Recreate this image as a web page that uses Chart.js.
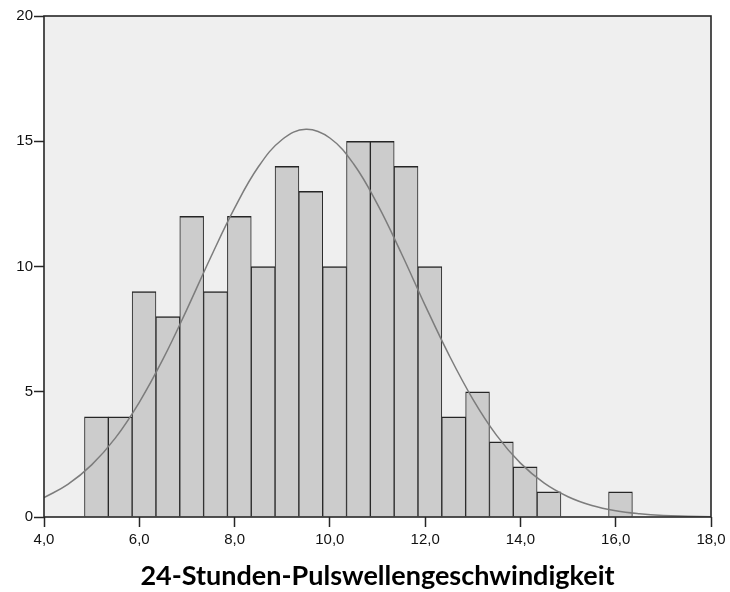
<!DOCTYPE html>
<html>
<head>
<meta charset="utf-8">
<script src="https://cdn.jsdelivr.net/npm/chart.js@4.4.1/dist/chart.umd.min.js"></script>
<style>
  html, body { margin: 0; padding: 0; background: #fff; }
  #wrap { width: 730px; height: 592px; position: relative; }
</style>
</head>
<body>
<div id="wrap"><canvas id="histo"></canvas></div>
<script>
// bin centres (bin width 0.5) and frequencies
const binCenters = [5.1, 5.6, 6.1, 6.6, 7.1, 7.6, 8.1, 8.6, 9.1, 9.6, 10.1,
  10.6, 11.1, 11.6, 12.1, 12.6, 13.1, 13.6, 14.1, 14.6, 16.1];
const counts = [4, 4, 9, 8, 12, 9, 12, 10, 14, 13, 10,
  15, 15, 14, 10, 4, 5, 3, 2, 1, 1];

// normal curve, every 0.5
const curveX = [4.0, 4.5, 5.0, 5.5, 6.0, 6.5, 7.0, 7.5, 8.0, 8.5, 9.0, 9.5,
  10.0, 10.5, 11.0, 11.5, 12.0, 12.5, 13.0, 13.5, 14.0, 14.5, 15.0, 15.5,
  16.0, 16.5, 17.0, 17.5, 18.0];
const curveY = [0.77, 1.30, 2.08, 3.16, 4.58, 6.31, 8.29, 10.37, 12.33, 13.98, 15.07, 15.48,
  15.13, 14.09, 12.48, 10.53, 8.45, 6.47, 4.71, 3.26, 2.15, 1.35, 0.81, 0.46,
  0.25, 0.13, 0.06, 0.03, 0.01];

const yTicks = [0, 5, 10, 15, 20];
const xTicks = [4, 6, 8, 10, 12, 14, 16, 18];
const xTickLabels = ["4,0", "6,0", "8,0", "10,0", "12,0", "14,0", "16,0", "18,0"];
const axisTitle = "24-Stunden-Pulswellengeschwindigkeit";

const PLOT_BG = "#efefef";
const BAR_FILL = "#cccccc";
const EDGE = "#262626";
const CURVE = "#7c7c7c";

// grey plot background + frame round the whole plot area
const plotFrame = {
  id: "plotFrame",
  beforeDraw(chart) {
    const { ctx, chartArea: a } = chart;
    ctx.save();
    ctx.fillStyle = PLOT_BG;
    ctx.fillRect(a.left, a.top, a.right - a.left, a.bottom - a.top);
    ctx.restore();
  },
  afterDatasetsDraw(chart) {
    const { ctx, chartArea: a } = chart;
    ctx.save();
    ctx.strokeStyle = EDGE;
    ctx.lineWidth = 1.6;
    ctx.strokeRect(a.left, a.top, a.right - a.left, a.bottom - a.top);
    ctx.restore();
  },
};

const tickFont = { family: "'Liberation Sans', Arial, sans-serif", size: 15 };

new Chart(document.getElementById("histo").getContext("2d"), {
  data: {
    datasets: [
      {
        type: "line",
        label: "Normal",
        data: curveX.map((x, i) => ({ x, y: curveY[i] })),
        borderColor: CURVE,
        borderWidth: 1.5,
        pointRadius: 0,
        tension: 0.4,
        fill: false,
        order: 0,
      },
      {
        type: "bar",
        label: "Häufigkeit",
        data: binCenters.map((x, i) => ({ x, y: counts[i] })),
        backgroundColor: BAR_FILL,
        borderColor: EDGE,
        borderWidth: { top: 1.5, left: 1, right: 1, bottom: 0 },
        borderSkipped: false,
        barPercentage: 1,
        categoryPercentage: 1,
        order: 1,
      },
    ],
  },
  options: {
    responsive: true,
    maintainAspectRatio: false,
    animation: false,
    layout: { padding: { left: 0, top: 16, right: 19, bottom: 0 } },
    plugins: {
      legend: { display: false },
      tooltip: { enabled: false },
    },
    scales: {
      x: {
        type: "linear",
        min: 4,
        max: 18,
        offset: false,
        grid: {
          offset: false,
          drawOnChartArea: false,
          drawTicks: true,
          tickLength: 10,
          tickColor: EDGE,
          tickWidth: 1.5,
        },
        border: { display: false },
        afterBuildTicks: (scale) => { scale.ticks = xTicks.map((v) => ({ value: v })); },
        ticks: {
          autoSkip: false,
          color: "#111",
          font: tickFont,
          padding: 4,
          maxRotation: 0,
          callback: (v) => xTickLabels[xTicks.indexOf(v)] ?? String(v),
        },
        title: {
          display: true,
          text: axisTitle,
          color: "#000",
          font: { family: "Lato, 'Open Sans', sans-serif", size: 27, weight: "bold" },
          padding: { top: 12, bottom: 0 },
        },
        afterFit: (scale) => { scale.height = 75; },
      },
      y: {
        min: 0,
        max: 20,
        grid: {
          drawOnChartArea: false,
          drawTicks: true,
          tickLength: 10,
          tickColor: EDGE,
          tickWidth: 1.5,
        },
        border: { display: false },
        afterBuildTicks: (scale) => { scale.ticks = yTicks.map((v) => ({ value: v })); },
        ticks: {
          color: "#111",
          font: tickFont,
          padding: 1,
        },
        afterFit: (scale) => { scale.width = 44; },
      },
    },
  },
  plugins: [plotFrame],
});
</script>
</body>
</html>
